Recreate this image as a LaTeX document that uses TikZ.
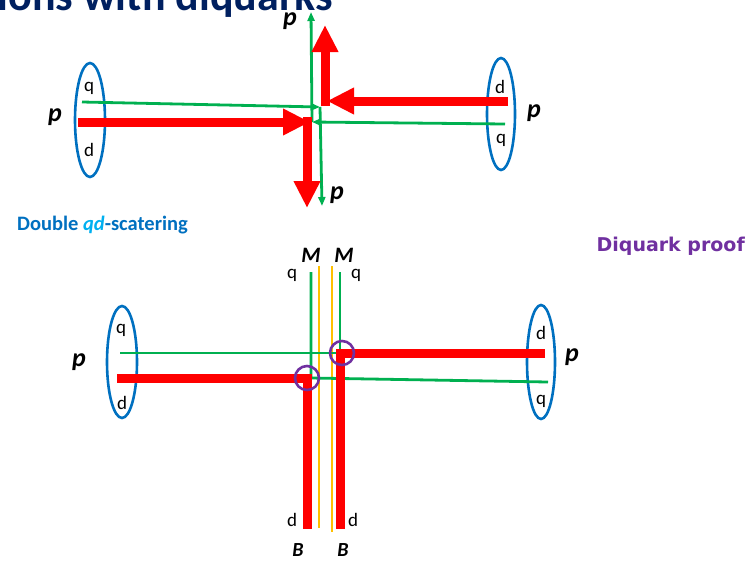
\documentclass[tikz,border=0pt]{standalone}
\usepackage{fontspec}
\setmainfont{Carlito}
\newfontfamily\comicfont{DejaVu Sans}
\usetikzlibrary{arrows.meta}
\definecolor{qred}{HTML}{FF0000}
\definecolor{qgreen}{HTML}{00B050}
\definecolor{pblue}{HTML}{0070C0}
\definecolor{lblue}{HTML}{00B0F0}
\definecolor{mgold}{HTML}{FFC000}
\definecolor{dpurple}{HTML}{7030A0}
\definecolor{navy}{HTML}{002060}

\begin{document}
\begin{tikzpicture}[x=1pt,y=-1pt,
      proton/.style={draw=pblue,line width=2.6pt},
      diquark/.style={draw=qred,line width=9pt},
      quark/.style={draw=qgreen,line width=2.8pt},
      meson/.style={draw=mgold,line width=2.8pt},
      vertex/.style={draw=dpurple,line width=2.6pt},
      bigtip/.style={-{Triangle[length=27pt,width=25pt]}},
      smalltip/.style={-{Triangle[length=9pt,width=7pt]}},
      plab/.style={font=\fontsize{26}{30}\selectfont\bfseries\itshape},
      flab/.style={font=\fontsize{19}{22}\selectfont}]
    \useasboundingbox (0,0) rectangle (749,560);

    % title, cut by the page edge
    \node[anchor=base east,inner sep=0pt,text=navy,
          font=\fontsize{44}{48}\selectfont\bfseries] (title) at (333,10) {ions with diquarks};

    % ---- upper picture: elastic pp scattering ----
    \draw[proton] (90,120) ellipse [x radius=15, y radius=57];
    \draw[proton] (501,114) ellipse [x radius=14, y radius=56];
    \node[flab] (q1) at (89,88) {q};
    \node[flab] (d1) at (89,150) {d};
    \node[flab] (d2) at (500,87) {d};
    \node[flab] (q2) at (501,140) {q};
    \node[plab] (pl) at (55,117) {p};
    \node[plab] (pr) at (534,113) {p};
    \node[plab] (pt) at (290,21) {p};
    \node[plab] (pb) at (337,195) {p};

    \coordinate (lq) at (82,102);   \coordinate (ld) at (78,122);
    \coordinate (rd) at (508,101);  \coordinate (rq) at (505,124);
    \coordinate (ca) at (320,107);  \coordinate (cb) at (312,122);

    \draw[quark,smalltip] (lq) -- (ca);
    \draw[quark,smalltip] (ca) -- (322,206);
    \draw[quark,smalltip] (rq) -- (cb);
    \draw[quark,smalltip] (cb) -- (311,12);

    \draw[diquark,bigtip] (ld) -- (310,122);
    \draw[diquark,bigtip] (307,117) -- (307,208);
    \draw[diquark,bigtip] (rd) -- (327,101);
    \draw[diquark,bigtip] (325,106) -- (325,25);

    \node[anchor=west,inner sep=0pt,text=pblue,
          font=\fontsize{20.5}{24}\selectfont\bfseries] (dbl) at (17,225)
          {Double \textcolor{lblue}{\itshape qd}-scatering};
    \node[anchor=east,inner sep=0pt,text=dpurple,
          font=\comicfont\fontsize{19}{22}\selectfont\bfseries] (proof) at (745,246) {Diquark proof};

    % ---- lower picture: double qd scattering ----
    \draw[proton] (122,362) ellipse [x radius=15, y radius=56];
    \draw[proton] (541,362) ellipse [x radius=14, y radius=57];
    \node[flab] (q3) at (121,330) {q};
    \node[flab] (d3) at (122,403) {d};
    \node[flab] (d4) at (541,333) {d};
    \node[flab] (q4) at (541,401) {q};
    \node[plab] (pl2) at (79,362) {p};
    \node[plab] (pr2) at (572,357) {p};

    \coordinate (v1) at (307,378);
    \coordinate (v2) at (340,353);
    \coordinate (c2) at (342,353);

    \draw[meson] (319,266) -- (319,528);
    \draw[meson] (332,266) -- (332,532);

    \draw[quark] (120,353) -- (v2) -- (340,272);
    \draw[quark] (548,382) -- (311,378) -- (311,272);
    \draw[diquark] (117,378) -- (v1) -- (307,529);
    \draw[diquark] (545,353) -- (v2) -- (340,529);

    \draw[vertex] (v1) circle [radius=12];
    \draw[vertex] (c2) circle [radius=12];

    \node[plab,font=\fontsize{22}{26}\selectfont\bfseries\itshape] (m1) at (311,255) {M};
    \node[plab,font=\fontsize{22}{26}\selectfont\bfseries\itshape] (m2) at (344,255) {M};
    \node[flab] (q5) at (292,275) {q};
    \node[flab] (q6) at (356,275) {q};
    \node[flab] (d5) at (292,520) {d};
    \node[flab] (d6) at (353,520) {d};
    \node[plab,font=\fontsize{20}{24}\selectfont\bfseries\itshape] (b1) at (298,550) {B};
    \node[plab,font=\fontsize{20}{24}\selectfont\bfseries\itshape] (b2) at (343,550) {B};
\end{tikzpicture}
\end{document}
